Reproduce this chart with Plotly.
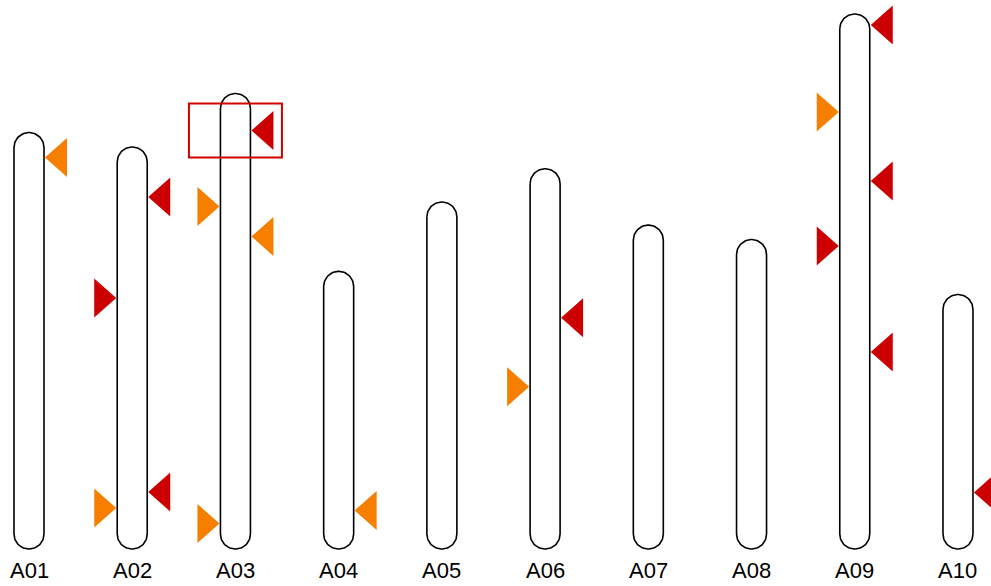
import numpy as np
import plotly.graph_objects as go

# ---- data ----
chroms = ["A01", "A02", "A03", "A04", "A05", "A06", "A07", "A08", "A09", "A10"]
lengths = [28.8, 27.8, 31.5, 19.2, 24.0, 26.3, 22.4, 21.4, 37.0, 17.6]  # Mb

marker_chrom = ["A01", "A02", "A02", "A02", "A02", "A03", "A03", "A03", "A03",
                "A04", "A06", "A06", "A09", "A09", "A09", "A09", "A09", "A10"]
marker_pos = [1.73, 3.46, 10.44, 23.86, 24.97, 2.56, 7.81, 9.89, 29.74,
              16.53, 10.30, 15.08, 0.76, 6.78, 11.55, 16.04, 23.37, 13.69]  # Mb from top
marker_side = ["right", "right", "left", "right", "left", "right", "left", "right", "left",
               "right", "right", "left", "right", "left", "right", "left", "right", "right"]
marker_type = ["orange", "red", "red", "red", "orange", "red", "orange", "orange", "orange",
               "orange", "red", "orange", "red", "orange", "red", "red", "red", "red"]
highlight_idx = [5]

colors = {"orange": "#F77F00", "red": "#CC0000"}

# ---- geometry (pixel scales) ----
W, H = 991, 586
PX_X = 103.22   # px per chromosome slot
PX_Y = 14.46    # px per Mb
X0_PX = 29      # px of first chromosome center
BASE_PX = 549   # px of chromosome bottoms

xr = [-X0_PX / PX_X, (W - X0_PX) / PX_X]
yr = [-(H - BASE_PX) / PX_Y, BASE_PX / PX_Y]

hw = 15 / PX_X
ry = 15 / PX_Y

fig = go.Figure()

# chromosomes
cx, cy = [], []
for i, L in enumerate(lengths):
    t_top = np.linspace(np.pi, 0, 40)
    t_bot = np.linspace(0, -np.pi, 40)
    xs = list(i + hw * np.cos(t_top)) + list(i + hw * np.cos(t_bot)) + [i - hw]
    ys = list(L - ry + ry * np.sin(t_top)) + list(ry + ry * np.sin(t_bot)) + [L - ry]
    cx += xs + [None]
    cy += ys + [None]
fig.add_trace(go.Scatter(x=cx, y=cy, mode="lines", fill="toself", fillcolor="white",
                         line=dict(color="black", width=1.6), hoverinfo="skip", showlegend=False))

# markers
tip = 16 / PX_X
base = 38 / PX_X
hh = 19.5 / PX_Y
for ctype in ["orange", "red"]:
    tx, ty = [], []
    for c, p, s, t in zip(marker_chrom, marker_pos, marker_side, marker_type):
        if t != ctype:
            continue
        i = chroms.index(c)
        y = lengths[i] - p
        sgn = 1 if s == "right" else -1
        tx += [i + sgn * tip, i + sgn * base, i + sgn * base, i + sgn * tip, None]
        ty += [y, y + hh, y - hh, y, None]
    fig.add_trace(go.Scatter(x=tx, y=ty, mode="lines", fill="toself", fillcolor=colors[ctype],
                             line=dict(color=colors[ctype], width=0), hoverinfo="skip",
                             showlegend=False))

# highlight box
for k in highlight_idx:
    i = chroms.index(marker_chrom[k])
    y = lengths[i] - marker_pos[k]
    fig.add_shape(type="rect", xref="x", yref="y",
                  x0=i - 46.5 / PX_X, x1=i + 46.5 / PX_X,
                  y0=y - 27 / PX_Y, y1=y + 27 / PX_Y,
                  line=dict(color="#D40000", width=2), fillcolor="rgba(0,0,0,0)")

# labels
for i, c in enumerate(chroms):
    fig.add_annotation(x=i, y=-21.5 / PX_Y, xref="x", yref="y", text=c, showarrow=False,
                       font=dict(family="Liberation Sans, Arial, sans-serif", size=22, color="black"))

fig.update_layout(width=W, height=H, margin=dict(l=0, r=0, t=0, b=0),
                  plot_bgcolor="white", paper_bgcolor="white", showlegend=False)
fig.update_xaxes(range=xr, visible=False, fixedrange=True)
fig.update_yaxes(range=yr, visible=False, fixedrange=True)

fig.write_html("out.html")
